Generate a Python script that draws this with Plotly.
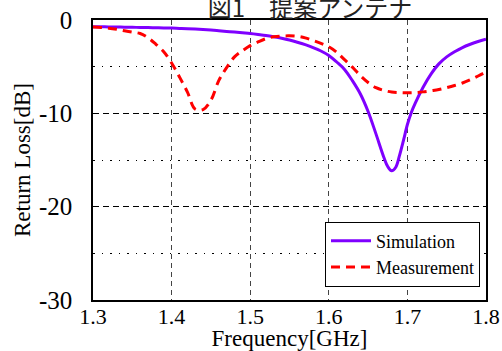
import plotly.graph_objects as go

# Data (frequency in GHz, return loss in dB)
sim_freq = [1.30, 1.31, 1.32, 1.33, 1.34, 1.35, 1.36, 1.37, 1.38, 1.39,
            1.40, 1.41, 1.42, 1.43, 1.44, 1.45, 1.46, 1.47, 1.48, 1.49,
            1.50, 1.51, 1.52, 1.53, 1.54, 1.55, 1.56, 1.57, 1.58, 1.59,
            1.60, 1.61, 1.62, 1.63, 1.64, 1.65, 1.66, 1.67, 1.675, 1.68,
            1.685, 1.69, 1.695, 1.70, 1.705, 1.71, 1.72, 1.73, 1.74, 1.75,
            1.76, 1.77, 1.78, 1.79, 1.80]
sim_rl = [-0.72, -0.73, -0.74, -0.75, -0.77, -0.78, -0.80, -0.81, -0.83, -0.85,
          -0.87, -0.90, -0.93, -0.97, -1.02, -1.08, -1.15, -1.22, -1.29, -1.37,
          -1.45, -1.55, -1.66, -1.80, -1.96, -2.15, -2.38, -2.64, -2.95, -3.32,
          -3.80, -4.50, -5.30, -6.50, -7.90, -9.80, -12.2, -14.7, -15.7, -16.15,
          -15.8, -14.5, -12.9, -11.2, -9.9, -8.9, -7.2, -5.8, -4.7, -3.95,
          -3.4, -2.95, -2.6, -2.3, -2.05]

meas_freq = [round(1.30 + 0.01 * i, 2) for i in range(51)]
meas_rl = [-0.75, -0.80, -0.88, -1.00, -1.15, -1.30, -1.45, -1.90, -2.60, -3.40,
           -4.60, -6.10, -7.70, -9.55, -9.60, -8.60, -6.50, -5.10, -3.95, -3.30,
           -2.75, -2.35, -2.00, -1.80, -1.72, -1.70, -1.75, -1.92, -2.20, -2.50,
           -2.87, -3.45, -4.25, -5.05, -5.95, -6.70, -7.25, -7.55, -7.72, -7.78,
           -7.80, -7.78, -7.70, -7.58, -7.45, -7.25, -7.02, -6.75, -6.40, -6.00,
           -5.55]

x_ticks = [1.3, 1.4, 1.5, 1.6, 1.7, 1.8]
x_ticktext = ["1.3", "1.4", "1.5", "1.6", "1.7", "1.8"]
y_ticks = [0, -10, -20, -30]
y_ticktext = ["0", "-10", "-20", "-30"]
y_minor = [-5, -15, -25]

title_text = "図1　提案アンテナ"
serif = "Liberation Serif, Times New Roman, Noto Sans CJK JP, serif"

fig = go.Figure()
fig.add_trace(go.Scatter(x=sim_freq, y=sim_rl, mode="lines", name="Simulation",
                         line=dict(color="#7F00FF", width=3, shape="spline", smoothing=1.0)))
fig.add_trace(go.Scatter(x=meas_freq, y=meas_rl, mode="lines", name="Measurement",
                         line=dict(color="#FF0000", width=3, dash="9px,6px", shape="spline", smoothing=1.0)))

fig.update_layout(
    width=502, height=351,
    margin=dict(l=93, r=16, t=20, b=51, autoexpand=False),
    paper_bgcolor="white", plot_bgcolor="white",
    font=dict(family=serif, size=22, color="black"),
    title=dict(text=title_text, x=310/502, xanchor="center", y=1 - 17/351, yanchor="bottom",
               automargin=False,
               font=dict(family="Noto Sans CJK JP, serif", size=24, color="#222")),
    showlegend=True,
    legend=dict(x=(480 - 93) / 393, xanchor="right", y=(300.5 - 287) / 280, yanchor="bottom",
                bgcolor="white", bordercolor="black", borderwidth=1,
                font=dict(family=serif, size=18, color="black"),
                tracegroupgap=0, itemwidth=40),
)

fig.update_xaxes(range=[1.3, 1.8], tickmode="array", tickvals=x_ticks, ticktext=x_ticktext,
                 tickfont=dict(family=serif, size=22, color="black"),
                 showline=True, linecolor="black", linewidth=1.5, mirror=True,
                 showgrid=True, gridcolor="#444", griddash="5px,4px", gridwidth=1,
                 zeroline=False, ticks="", ticklabelstandoff=-4, automargin=False,
                 title=dict(text="Frequency[GHz]", standoff=12,
                            font=dict(family=serif, size=23, color="black")))
fig.update_yaxes(range=[-30, 0], tickmode="array", tickvals=y_ticks, ticktext=y_ticktext,
                 tickfont=dict(family=serif, size=25, color="black"),
                 showline=True, linecolor="black", linewidth=1.5, mirror=True,
                 showgrid=True, gridcolor="black", griddash="6px,4px", gridwidth=1,
                 zeroline=False, ticks="", ticklabelstandoff=14, automargin=False,
                 minor=dict(tickmode="array", tickvals=y_minor, showgrid=True,
                            gridcolor="black", griddash="1.5px,7px", gridwidth=1, ticks=""),
                 title=dict(text="Return Loss[dB]", standoff=2,
                            font=dict(family=serif, size=23, color="black")))

fig.write_html("out.html", config={"displayModeBar": False},
               post_script="document.body.style.margin='0';")
